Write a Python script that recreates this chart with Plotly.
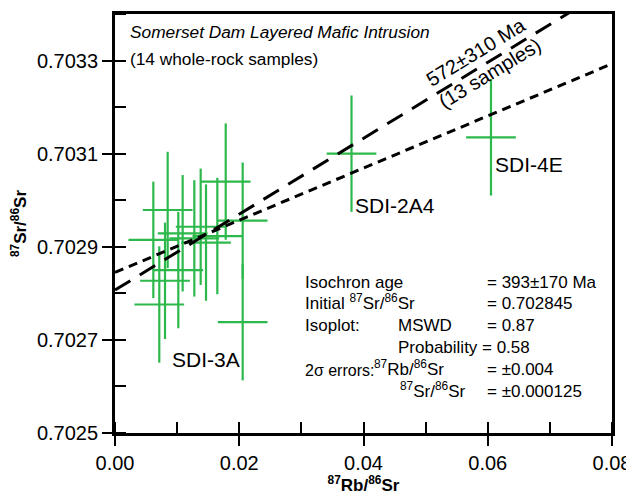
import plotly.graph_objects as go

# ---- data ----
rb_sr = [0.01782, 0.00848, 0.02055, 0.01379, 0.01089, 0.01647, 0.00617, 0.01465,
         0.01277, 0.01019, 0.00805, 0.00713, 0.02055, 0.03807, 0.06052]
sr_sr = [0.703040, 0.702979, 0.702956, 0.702943, 0.702929, 0.702923, 0.702915, 0.702909,
         0.702918, 0.702850, 0.702827, 0.702776, 0.702738, 0.703100, 0.703135]
err_rb = 0.004
err_sr = 0.000125

iso14_x = [0.0, 0.08]
iso14_y = [0.702845, 0.703293]      # 393±170 Ma, 14 samples
iso13_x = [0.0, 0.08]
iso13_y = [0.702807, 0.703459]      # 572±310 Ma, 13 samples

sample_labels = ["SDI-3A", "SDI-2A4", "SDI-4E"]

x_ticks = [0.00, 0.02, 0.04, 0.06, 0.08]
y_ticks = [0.7025, 0.7027, 0.7029, 0.7031, 0.7033]

GREEN = "#2db84b"
FONT = "Liberation Sans, Arial, sans-serif"

L, R, T, B = 115, 14, 14, 62
W, H = 626, 495
PW, PH = W - L - R, H - T - B
X_RANGE = [0, 0.080001]
Y_RANGE = [0.7025, 0.7034]


def px(xp):
    return (xp - L) / PW


def py(yp):
    return (H - B - yp) / PH


fig = go.Figure()

fig.add_trace(go.Scatter(
    x=rb_sr, y=sr_sr, mode="markers",
    marker=dict(size=1, color=GREEN),
    error_x=dict(type="constant", value=err_rb, width=0, thickness=2.2, color=GREEN),
    error_y=dict(type="constant", value=err_sr, width=0, thickness=2.2, color=GREEN),
    showlegend=False, hoverinfo="skip"))

fig.add_trace(go.Scatter(
    x=iso13_x, y=iso13_y, mode="lines",
    line=dict(color="black", width=3, dash="18px,11px"),
    showlegend=False, hoverinfo="skip"))

fig.add_trace(go.Scatter(
    x=iso14_x, y=iso14_y, mode="lines",
    line=dict(color="black", width=3, dash="9px,6px"),
    showlegend=False, hoverinfo="skip"))

# invisible trace for overlay axes (inside half of major ticks)
fig.add_trace(go.Scatter(x=[x_ticks[0]], y=[y_ticks[0]], xaxis="x2", yaxis="y2",
                         mode="markers", marker=dict(size=0, opacity=0),
                         showlegend=False, hoverinfo="skip"))

axis_common = dict(showgrid=False, zeroline=False, ticks="outside", ticklen=10,
                   tickwidth=2, tickcolor="black", showline=True, linewidth=2.8,
                   linecolor="black", mirror=True, automargin=False,
                   ticklabeloverflow="allow",
                   tickfont=dict(family=FONT, size=20, color="black"))

fig.update_layout(
    template="none",
    width=W, height=H,
    margin=dict(l=L, r=R, t=T, b=B, autoexpand=False),
    paper_bgcolor="white", plot_bgcolor="white",
    font=dict(family=FONT, color="black"),
    xaxis=dict(range=X_RANGE, tickvals=x_ticks,
               ticktext=[f"{v:.2f}" for v in x_ticks],
               minor=dict(ticks="inside", dtick=0.01, tick0=0, ticklen=11,
                          tickwidth=2, tickcolor="black"),
               title=dict(text="<b><sup>87</sup>Rb/<sup>86</sup>Sr</b>",
                          font=dict(family=FONT, size=17), standoff=6),
               **axis_common),
    yaxis=dict(range=Y_RANGE, tickvals=y_ticks,
               ticktext=[f"{v:.4f}" for v in y_ticks],
               minor=dict(ticks="inside", dtick=0.0001, tick0=0.7025, ticklen=11,
                          tickwidth=2, tickcolor="black"),
               title=dict(text="<b><sup>87</sup>Sr/<sup>86</sup>Sr</b>",
                          font=dict(family=FONT, size=17), standoff=6),
               **axis_common),
    xaxis2=dict(overlaying="x", matches="x", anchor="y2", side="bottom",
                range=X_RANGE, tickvals=x_ticks, ticks="inside", ticklen=11,
                tickwidth=2, tickcolor="black", showticklabels=False,
                showgrid=False, zeroline=False, showline=False, automargin=False),
    yaxis2=dict(overlaying="y", matches="y", anchor="x2", side="left",
                range=Y_RANGE, tickvals=y_ticks, ticks="inside", ticklen=11,
                tickwidth=2, tickcolor="black", showticklabels=False,
                showgrid=False, zeroline=False, showline=False, automargin=False),
)

ann = []


def text(xp, yp, s, size=17.5, xanchor="left", angle=0, italic=False, yanchor="middle"):
    ann.append(dict(xref="paper", yref="paper", x=px(xp), y=py(yp), text=s,
                    showarrow=False, xanchor=xanchor, yanchor=yanchor,
                    textangle=angle, borderpad=0,
                    font=dict(family=FONT, size=size, color="black",
                              style="italic" if italic else "normal")))


text(129, 32, "Somerset Dam Layered Mafic Intrusion", size=17.3, italic=True)
text(129, 59, "(14 whole-rock samples)", size=17.3)

text(476, 52, "572±310 Ma", size=20, xanchor="center", angle=-31.4)
text(490, 73, "(13 samples)", size=20, xanchor="center", angle=-31.4)

text(171, 359, sample_labels[0], size=21)
text(354, 205, sample_labels[1], size=21)
text(494, 164, sample_labels[2], size=21)


def row(xp, yc, s, size=17, xanchor="left"):
    # bottom-anchored so that baselines line up whether or not there are superscripts
    text(xp, yc + 10.5, s, size=size, yanchor="bottom", xanchor=xanchor)


rows = [282, 303.5, 325, 347, 369, 391]
row(304, rows[0], "Isochron age")
row(486, rows[0], "= 393±170 Ma")
row(304, rows[1], "Initial <sup>87</sup>Sr/<sup>86</sup>Sr")
row(486, rows[1], "= 0.702845")
row(304, rows[2], "Isoplot:")
row(397, rows[2], "MSWD")
row(486, rows[2], "= 0.87")
row(397, rows[3], "Probability")
row(481, rows[3], "= 0.58")
row(304, rows[4], "2σ errors:", size=16)
row(373, rows[4], "<sup>87</sup>Rb/<sup>86</sup>Sr")
row(486, rows[4], "= ±0.004")
row(399, rows[5], "<sup>87</sup>Sr/<sup>86</sup>Sr")
row(486, rows[5], "= ±0.000125")

fig.update_layout(annotations=ann)

fig.write_html(
    "out.html",
    config={"displayModeBar": False},
    post_script="document.body.style.margin='0';document.body.style.padding='0';",
)
